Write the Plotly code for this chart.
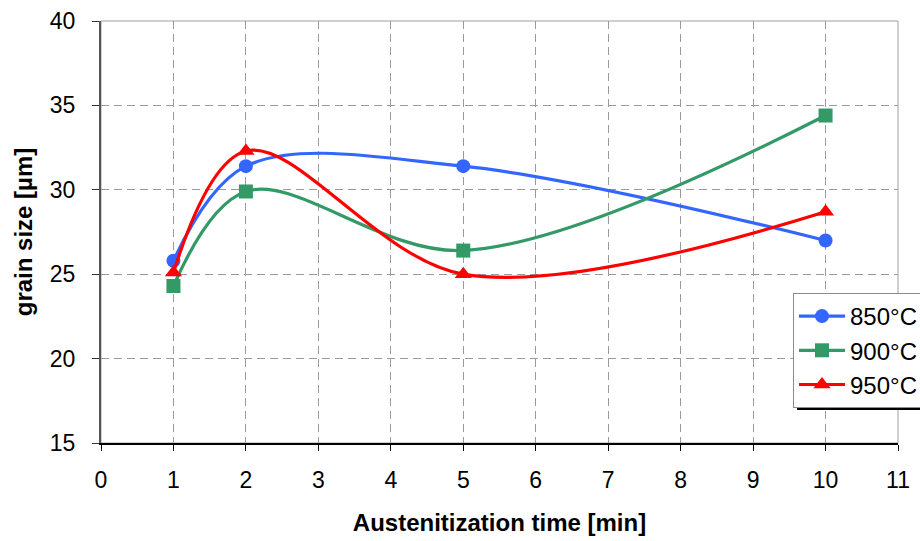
import plotly.graph_objects as go

# Austenitization time [min]
time_min = [1, 2, 5, 10]

# Grain size [µm] per austenitization temperature
grain_850 = [25.8, 31.4, 31.4, 27.0]
grain_900 = [24.3, 29.9, 26.4, 34.4]
grain_950 = [25.1, 32.3, 25.0, 28.7]

series_names = ["850°C", "900°C", "950°C"]
series_colors = ["#3366FF", "#339966", "#FF0000"]
series_symbols = ["circle", "square", "triangle-up"]
series_values = [grain_850, grain_900, grain_950]

x_ticks = list(range(0, 12))
y_ticks = [15, 20, 25, 30, 35, 40]

W, H = 920, 541
ML, MR, MT, MB = 101, 22, 21, 98
PW, PH = W - ML - MR, H - MT - MB


def px_to_paper(px, py):
    return (px - ML) / PW, (H - MB - py) / PH


fig = go.Figure()

for name, color, symbol, vals in zip(series_names, series_colors, series_symbols, series_values):
    fig.add_trace(go.Scatter(
        x=time_min, y=vals, name=name, mode="lines+markers",
        line=dict(color=color, width=3.2, shape="spline", smoothing=1.0),
        marker=dict(color=color, symbol=symbol, size=14 if symbol != "triangle-up" else 15,
                    line=dict(width=0)),
        legendgroup=name,
    ))

font_family = "Liberation Sans, Arial, sans-serif"
grid_style = dict(showgrid=True, gridcolor="#9a9a9a", gridwidth=1, griddash="8px,5px")

# plot frame (top and right edges)
fig.add_shape(type="rect", xref="paper", yref="paper", x0=0, x1=1, y0=0, y1=1,
              line=dict(color="#a0a0a0", width=1), layer="below")

# legend drop shadow
sx0, sy0 = px_to_paper(797, 300)
sx1, sy1 = px_to_paper(960, 410)
fig.add_shape(type="rect", xref="paper", yref="paper", x0=sx0, x1=sx1, y0=sy1, y1=sy0,
              fillcolor="black", line=dict(width=0), layer="above")

lx, ly = px_to_paper(793, 293)

fig.update_layout(
    width=W, height=H,
    margin=dict(l=ML, r=MR, t=MT, b=MB, pad=0, autoexpand=False),
    paper_bgcolor="white", plot_bgcolor="white",
    font=dict(family=font_family, color="black", size=24),
    showlegend=True,
    legend=dict(
        x=lx, y=ly, xanchor="left", yanchor="top",
        bgcolor="white", bordercolor="#8c8c8c", borderwidth=1,
        font=dict(size=24, family=font_family, color="black"),
        itemwidth=46, tracegroupgap=0,
    ),
    xaxis=dict(
        range=[0, 11], tickmode="array", tickvals=x_ticks,
        ticks="outside", ticklen=6, tickcolor="black", tickwidth=1,
        ticklabelstandoff=10,
        showline=True, linecolor="black", linewidth=1.5,
        zeroline=False,
        title=dict(text="<b>Austenitization time [min]</b>", standoff=22,
                   font=dict(size=24)),
        tickfont=dict(size=23),
        **grid_style,
    ),
    yaxis=dict(
        range=[15, 40], tickmode="array", tickvals=y_ticks,
        ticks="outside", ticklen=7, tickcolor="#333333", tickwidth=1,
        ticklabelstandoff=12,
        showline=True, linecolor="#555555", linewidth=2,
        zeroline=False,
        title=dict(text="<b>grain size [µm]</b>", standoff=10,
                   font=dict(size=24)),
        tickfont=dict(size=23),
        **grid_style,
    ),
)

fig.write_html("out.html")
